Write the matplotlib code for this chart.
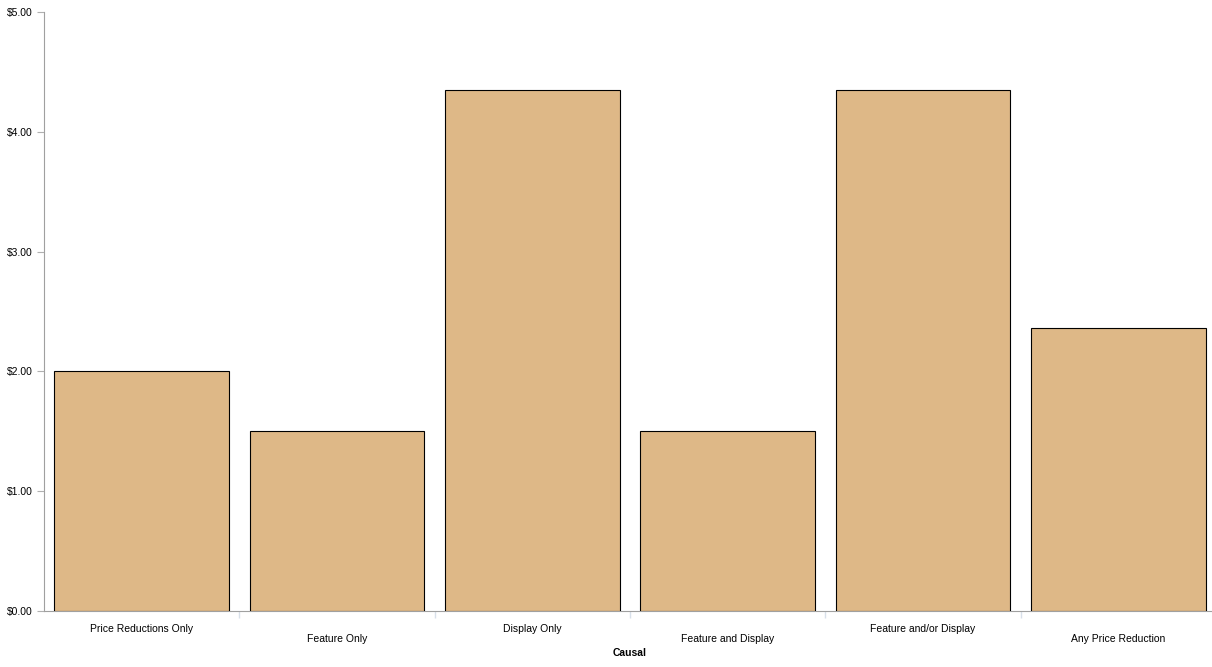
import matplotlib
matplotlib.use("Agg")
import matplotlib.pyplot as plt
import numpy as np
from matplotlib.ticker import FuncFormatter

plt.rcParams['font.family'] = ['Liberation Sans', 'DejaVu Sans']

categories = ["Price Reductions Only", "Feature Only", "Display Only",
              "Feature and Display", "Feature and/or Display", "Any Price Reduction"]
values = [2.00, 1.50, 4.35, 1.50, 4.35, 2.36]

fig = plt.figure(figsize=(12.12, 6.67), dpi=100)
ax = fig.add_axes([44 / 1212, 56 / 667, (1216 - 44) / 1212, (611 - 12) / 667])

x = np.arange(len(categories))
ax.bar(x, values, width=0.895, color="#DEB887", edgecolor="black", linewidth=0.8, zorder=3)

ax.set_xlim(-0.5, len(categories) - 0.5)
ax.set_ylim(0, 5)
ax.set_yticks(np.arange(0, 5.01, 1))
ax.yaxis.set_major_formatter(FuncFormatter(lambda v, p: f"${v:.2f}"))

ax.set_xticks(x)
ax.set_xticklabels(categories, fontsize=7.5)
ax.tick_params(axis="x", length=0)
for i, t in enumerate(ax.xaxis.get_major_ticks()):
    t.set_pad(16.5 if i % 2 else 9)

# boundary ticks between categories
ax.set_xticks(np.arange(0.5, len(categories) - 0.5), minor=True)
ax.tick_params(axis="x", which="minor", length=5, color="#d8e0ea", width=1)

ax.tick_params(axis="y", length=5, color="#b0b0b0", labelsize=7.5, pad=3)

for s in ["top", "right"]:
    ax.spines[s].set_visible(False)
for s in ["left", "bottom"]:
    ax.spines[s].set_color("#a0a0a0")

ax.set_xlabel("Causal", fontsize=7.5, fontweight="bold", labelpad=3)

fig.savefig("out.png", dpi=100)
